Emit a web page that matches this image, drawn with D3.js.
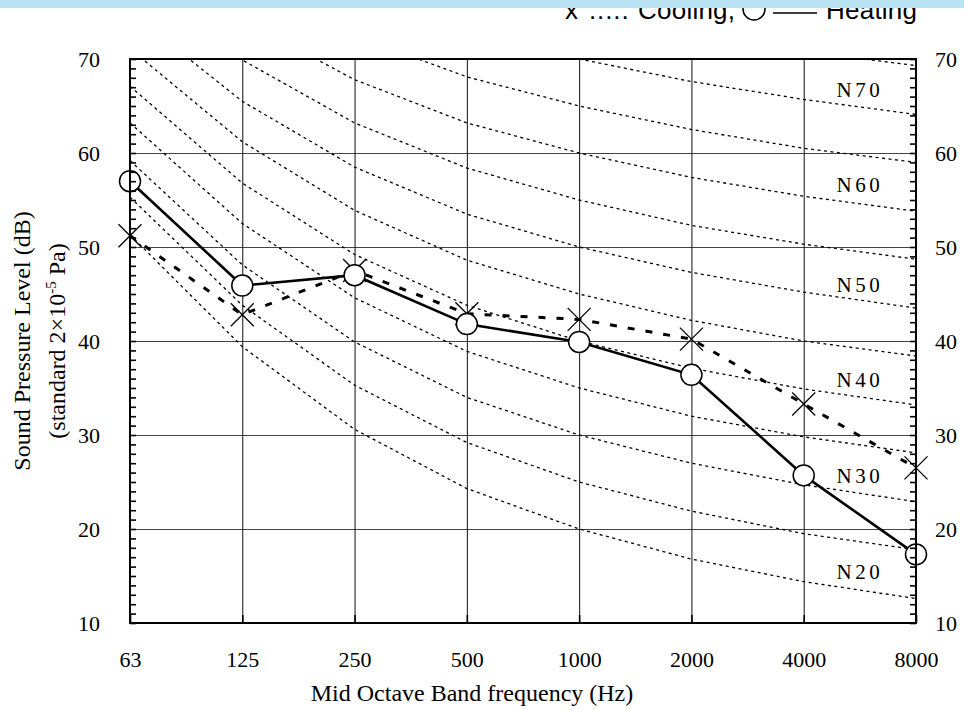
<!DOCTYPE html>
<html>
<head>
<meta charset="utf-8">
<script src="https://cdn.jsdelivr.net/npm/d3@7"></script>
<style>
  body { margin: 0; background: #fff; }
  svg { display: block; }
</style>
</head>
<body>
<div id="chart"></div>
<script>
// octave band centre frequencies (Hz)
const bands = ['63', '125', '250', '500', '1000', '2000', '4000', '8000']

// measured levels, dB
const heating = [57.0, 45.9, 47.0, 41.8, 39.9, 36.4, 25.7, 17.3]
const cooling = [51.2, 42.8, 47.5, 42.9, 42.3, 40.2, 33.3, 26.5]

// noise rating curves, one row per level
const nrLevels = [20, 25, 30, 35, 40, 45, 50, 55, 60, 65, 70, 75]
const nrCurves = [
  [51.3, 39.4, 30.6, 24.3, 20, 16.8, 14.4, 12.6],
  [55.3, 43.8, 35.3, 29.2, 25, 21.9, 19.5, 17.8],
  [59.2, 48.1, 39.9, 34.0, 30, 27.0, 24.7, 22.9],
  [63.2, 52.5, 44.6, 38.9, 35, 32.0, 29.8, 28.1],
  [67.1, 56.8, 49.2, 43.8, 40, 37.1, 34.9, 33.2],
  [71.1, 61.2, 53.9, 48.6, 45, 42.2, 40.0, 38.4],
  [75.0, 65.5, 58.5, 53.5, 50, 47.3, 45.2, 43.5],
  [79.0, 69.9, 63.2, 58.4, 55, 52.3, 50.3, 48.7],
  [82.9, 74.2, 67.8, 63.2, 60, 57.4, 55.4, 53.8],
  [86.9, 78.6, 72.5, 68.1, 65, 62.5, 60.5, 59.0],
  [90.8, 82.9, 77.1, 73.0, 70, 67.6, 65.7, 64.1],
  [94.8, 87.3, 81.8, 77.9, 75, 72.6, 70.8, 69.3]
]
const nrLabels = ['N70', 'N60', 'N50', 'N40', 'N30', 'N20']
const nrLabelDb = [66.0, 55.8, 45.2, 35.1, 24.9, 14.7]

const yTicks = [10, 20, 30, 40, 50, 60, 70]

const params = {
  width: 964,
  height: 710,
  left: 130,
  right: 916,
  top: 59,
  bottom: 623,
}
const serif = '"Liberation Serif", "Times New Roman", serif'
const sans = '"Liberation Sans", Arial, sans-serif'

const svg = d3.select('#chart')
  .append('svg')
  .attr('width', params.width)
  .attr('height', params.height)

const x = d3.scalePoint()
  .domain(bands)
  .range([params.left, params.right])

const y = d3.scaleLinear()
  .domain([10, 70])
  .range([params.bottom, params.top])

const plotW = params.right - params.left
const plotH = params.bottom - params.top

svg.append('clipPath')
  .attr('id', 'plot-clip')
  .append('rect')
  .attr('x', params.left)
  .attr('y', params.top)
  .attr('width', plotW)
  .attr('height', plotH)

// grid
const hGrid = svg.append('g')
  .attr('transform', `translate(${params.left},0)`)
  .call(d3.axisLeft(y).tickValues([20, 30, 40, 50, 60]).tickSize(-plotW).tickFormat(''))
hGrid.select('.domain').remove()
hGrid.selectAll('line').attr('stroke', '#444').attr('stroke-width', 1)

const vGrid = svg.append('g')
  .attr('transform', `translate(0,${params.bottom})`)
  .call(d3.axisBottom(x).tickValues(bands.slice(1, -1)).tickSize(-plotH).tickFormat(''))
vGrid.select('.domain').remove()
vGrid.selectAll('line').attr('stroke', '#111').attr('stroke-width', 1)

// NR curves
const line = d3.line()
  .x((d, i) => x(bands[i]))
  .y(d => y(d))

svg.append('g')
  .attr('clip-path', 'url(#plot-clip)')
  .selectAll('path')
  .data(nrCurves)
  .enter()
  .append('path')
  .attr('d', line)
  .attr('fill', 'none')
  .attr('stroke', '#000')
  .attr('stroke-width', 1.3)
  .attr('stroke-dasharray', '3,3.5')

// cooling (dashed) and heating (solid)
svg.append('path')
  .datum(cooling)
  .attr('d', line)
  .attr('fill', 'none')
  .attr('stroke', '#000')
  .attr('stroke-width', 3)
  .attr('stroke-dasharray', '7,11')

svg.append('path')
  .datum(heating)
  .attr('d', line)
  .attr('fill', 'none')
  .attr('stroke', '#000')
  .attr('stroke-width', 2.6)

svg.append('g')
  .selectAll('path')
  .data(cooling)
  .enter()
  .append('path')
  .attr('transform', (d, i) => `translate(${x(bands[i])},${y(d)})`)
  .attr('d', 'M-11.5,-11.5L11.5,11.5M-11.5,11.5L11.5,-11.5')
  .attr('stroke', '#000')
  .attr('stroke-width', 1.3)

svg.append('g')
  .selectAll('circle')
  .data(heating)
  .enter()
  .append('circle')
  .attr('cx', (d, i) => x(bands[i]))
  .attr('cy', d => y(d))
  .attr('r', 10.5)
  .attr('fill', '#fff')
  .attr('stroke', '#000')
  .attr('stroke-width', 1.5)

// NR labels
svg.append('g')
  .selectAll('text')
  .data(nrLabels)
  .enter()
  .append('text')
  .attr('x', (x('4000') + x('8000')) / 2)
  .attr('y', (d, i) => y(nrLabelDb[i]))
  .attr('text-anchor', 'middle')
  .attr('font-family', serif)
  .attr('font-size', 21)
  .attr('letter-spacing', 3.5)
  .text(d => d)

// frame
svg.append('rect')
  .attr('x', params.left)
  .attr('y', params.top)
  .attr('width', plotW)
  .attr('height', plotH)
  .attr('fill', 'none')
  .attr('stroke', '#000')
  .attr('stroke-width', 2)

// minor ticks, inside
const minor = d3.range(10, 71)
const lt = svg.append('g')
  .attr('transform', `translate(${params.left},0)`)
  .call(d3.axisRight(y).tickValues(minor).tickSize(6).tickFormat(''))
const rt = svg.append('g')
  .attr('transform', `translate(${params.right},0)`)
  .call(d3.axisLeft(y).tickValues(minor).tickSize(6).tickFormat(''))
const bt = svg.append('g')
  .attr('transform', `translate(0,${params.bottom})`)
  .call(d3.axisTop(x).tickSize(8).tickFormat(''))
;[lt, rt, bt].forEach(g => {
  g.select('.domain').remove()
  g.selectAll('line').attr('stroke', '#000').attr('stroke-width', 1.6)
})

// tick labels
function styleLabels(g) {
  g.select('.domain').remove()
  g.selectAll('text')
    .attr('font-family', serif)
    .attr('font-size', 22)
    .attr('fill', '#000')
}
svg.append('g')
  .attr('transform', `translate(${params.left},0)`)
  .call(d3.axisLeft(y).tickValues(yTicks).tickSize(0).tickPadding(30))
  .call(styleLabels)
svg.append('g')
  .attr('transform', `translate(${params.right},0)`)
  .call(d3.axisRight(y).tickValues(yTicks).tickSize(0).tickPadding(19))
  .call(styleLabels)
svg.append('g')
  .attr('transform', `translate(0,${params.bottom})`)
  .call(d3.axisBottom(x).tickSize(0).tickPadding(28))
  .call(styleLabels)

// axis titles
svg.append('text')
  .attr('x', 472)
  .attr('y', 701)
  .attr('text-anchor', 'middle')
  .attr('font-family', serif)
  .attr('font-size', 24)
  .text('Mid Octave Band frequency (Hz)')

const yTitle = svg.append('g')
  .attr('transform', 'translate(0,341) rotate(-90)')
  .attr('font-family', serif)
  .attr('font-size', 24)
  .attr('text-anchor', 'middle')
yTitle.append('text')
  .attr('x', 0)
  .attr('y', 30)
  .text('Sound Pressure Level (dB)')
const t2 = yTitle.append('text')
  .attr('x', 0)
  .attr('y', 65)
t2.append('tspan').text('(standard 2×10')
t2.append('tspan').attr('font-size', 15).attr('dy', -9).text('-5')
t2.append('tspan').attr('dy', 9).text(' Pa)')

// legend (partly hidden under the top band, as in the source)
const legend = svg.append('g')
  .attr('font-family', sans)
  .attr('font-size', 26)
legend.append('text')
  .attr('x', 565)
  .attr('y', 19)
  .text('x')
legend.append('text')
  .attr('x', 589)
  .attr('y', 19)
  .attr('letter-spacing', 0.9)
  .text('.....')
legend.append('text')
  .attr('x', 638)
  .attr('y', 19)
  .attr('textLength', 97)
  .text('Cooling,')
legend.append('circle')
  .attr('cx', 754)
  .attr('cy', 9)
  .attr('r', 11)
  .attr('fill', 'none')
  .attr('stroke', '#000')
  .attr('stroke-width', 1.5)
legend.append('line')
  .attr('x1', 773)
  .attr('x2', 817)
  .attr('y1', 13)
  .attr('y2', 13)
  .attr('stroke', '#000')
  .attr('stroke-width', 1.6)
legend.append('text')
  .attr('x', 826)
  .attr('y', 19)
  .attr('textLength', 91)
  .text('Heating')

// band across the top
svg.append('rect')
  .attr('x', 0)
  .attr('y', 0)
  .attr('width', params.width)
  .attr('height', 8)
  .attr('fill', '#b9e3f2')
</script>
</body>
</html>
